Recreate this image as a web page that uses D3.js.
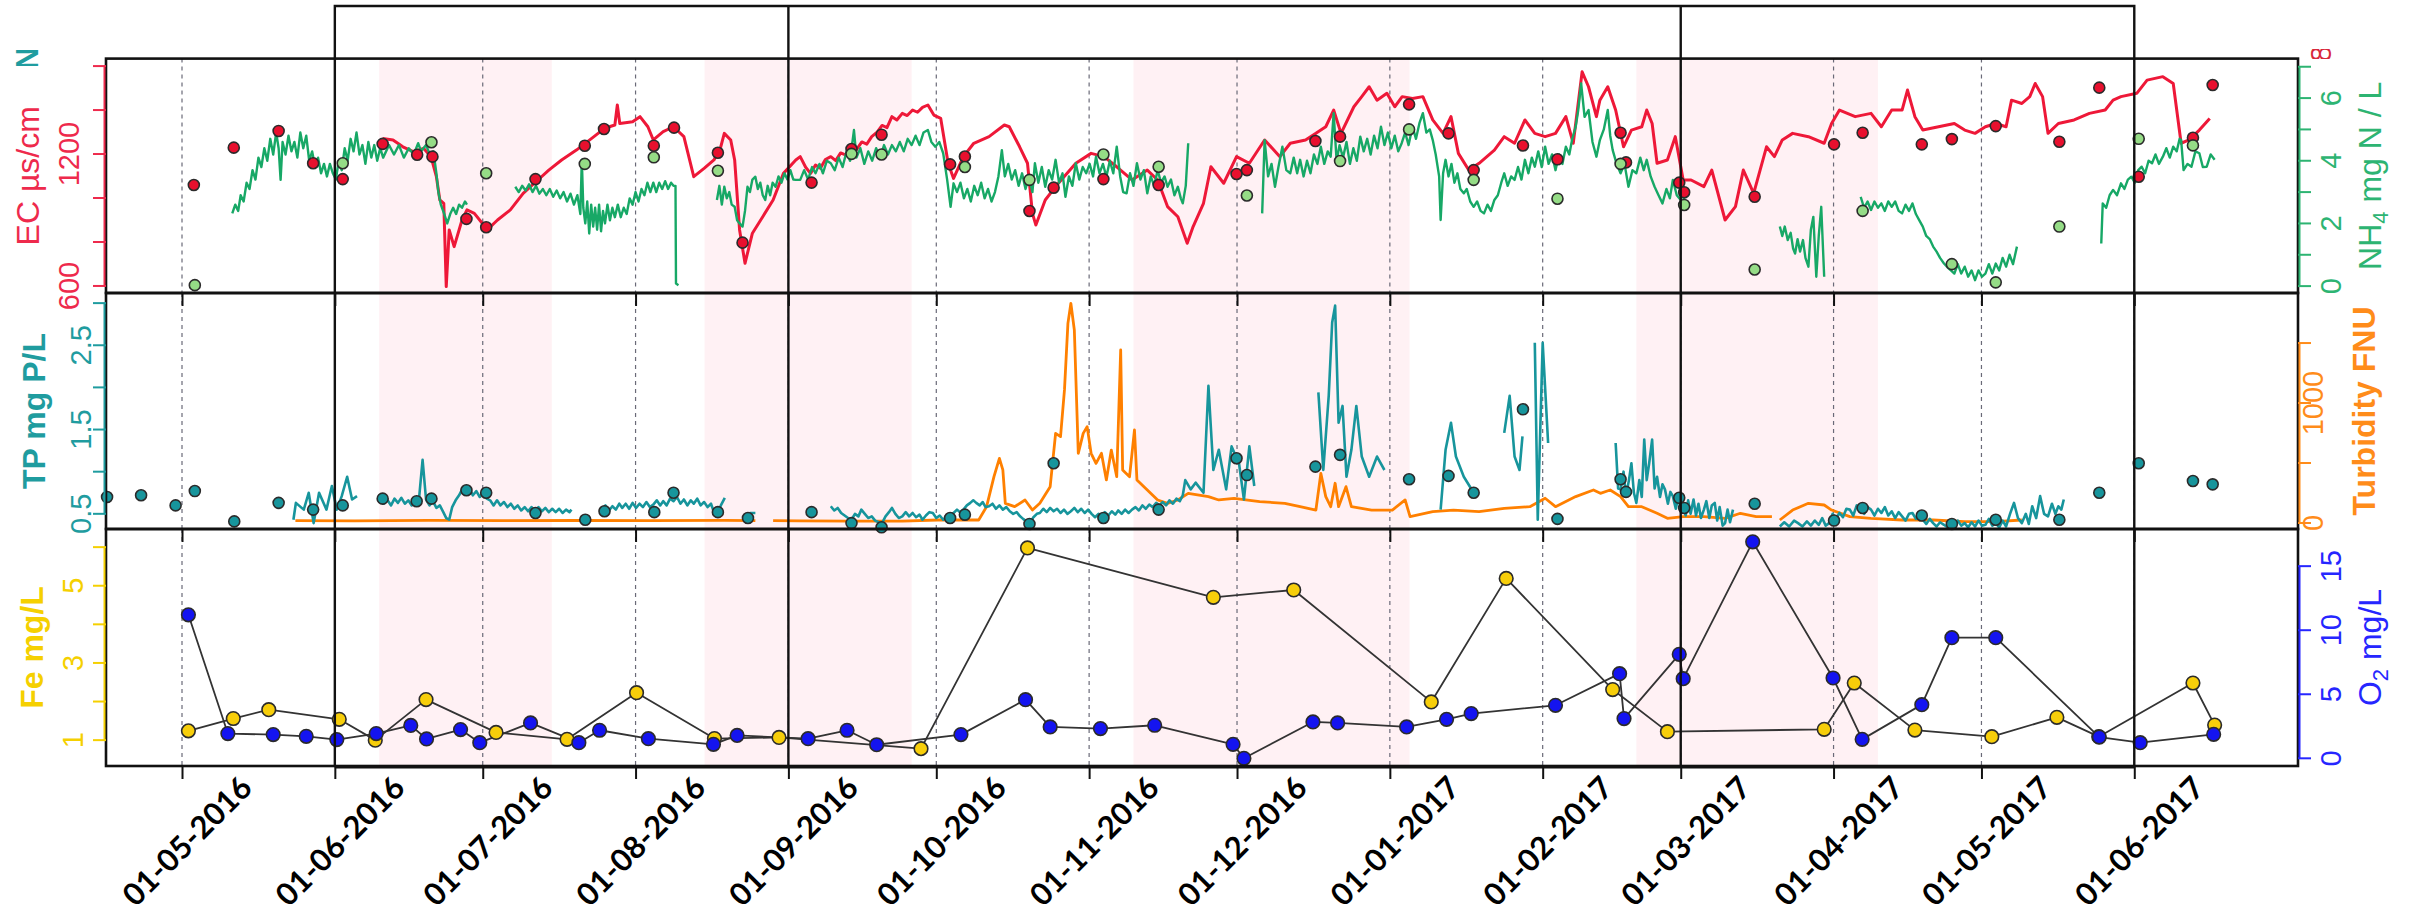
<!DOCTYPE html>
<html>
<head>
<meta charset="utf-8">
<script src="https://cdn.jsdelivr.net/npm/d3@7"></script>
<style>
  body { margin: 0; background: #fff; }
  svg { display: block; font-family: "Liberation Sans", Arial, sans-serif; }
</style>
</head>
<body>
<svg width="2417" height="912"></svg>
<script>
// ---- data (days counted from 01-05-2016) ----
var monthTicks = ["2016-05-01","2016-06-01","2016-07-01","2016-08-01","2016-09-01","2016-10-01","2016-11-01",
                  "2016-12-01","2017-01-01","2017-02-01","2017-03-01","2017-04-01","2017-05-01","2017-06-01"];
var monthLabels = ["01-05-2016","01-06-2016","01-07-2016","01-08-2016","01-09-2016","01-10-2016","01-11-2016",
                   "01-12-2016","01-01-2017","01-02-2017","01-03-2017","01-04-2017","01-05-2017","01-06-2017"];
var periodBreaks = ["2016-06-01","2016-09-01","2017-03-01","2017-06-01"];
var pinkBands = [["2016-06-10","2016-07-15"],["2016-08-15","2016-09-26"],["2016-11-10","2017-01-05"],["2017-02-20","2017-04-10"]];

// EC sensor (µS/cm)
var ecSeries = [[40.7,1271],[42.8,1264],[44.8,1233],[46.9,1211],[49,1226],[50.5,1188],[51.6,1097],[52.3,991],[53.1,976],[53.6,597],[54.2,855],[55.2,779],[56.8,900],[57.8,946],[59.3,930],[60.9,885],[61.9,855],[64,900],[66.6,946],[69.2,1021],[71.8,1074],[74.4,1127],[77,1173],[80,1218],[83.1,1271],[85.7,1317],[87.8,1332],[88.3,1423],[88.8,1339],[91.4,1347],[92.9,1370],[94.5,1324],[95.6,1264],[97.6,1302],[99.7,1324],[101.8,1279],[103.8,1097],[105.9,1135],[107.9,1173],[109.2,1226],[110,1294],[111.3,1264],[112.1,1173],[113.1,855],[114.2,703],[115.7,840],[117.8,915],[119.9,991],[122,1112],[124.5,1173],
  [125.4,1188],[126.5,1140],[127.5,1112],[128.5,1150],[129.5,1135],[130.5,1175],[131.6,1188],[132.6,1170],[133.6,1205],[134.7,1195],[135.8,1233],[136.8,1220],[137.9,1255],[138.9,1245],[139.9,1279],[141,1300],[142,1330],[143,1320],[144,1370],[145,1355],[146.1,1385],[147.1,1375],[148.2,1400],[149.2,1390],[150.2,1412],[151.3,1423],[152.5,1377],[153.9,1362],[155.4,1158],[156.5,1089],[158.5,1188],[160.6,1249],[163.7,1279],[166.8,1332],[167.8,1324],[169.9,1233],[171.5,1158],[172.5,930],[173.2,877],[175.1,991],[177.2,1052],[181.3,1158],[184.4,1203],[187,1188],[189.6,1142],[192.7,1082],[195.8,1127],[197.9,1082],[199.9,961],[202,915],[203.9,794],[205.1,870],[207.2,976],[208.7,1142],[211.3,1067],[213.9,1188],[216.5,1158],[219.6,1264],[222.7,1188],[224.8,1249],[227.9,1264],[230,1294],[232,1324],[233.6,1400],[235.1,1294],[237.7,1415],[239.3,1461],[240.8,1506],[242.4,1445],[244.4,1476],[246,1415],[247.5,1461],[249.6,1453],[251.7,1461],[253.7,1355],[255.8,1294],[257.4,1370],[258.9,1203],[261,1127],[263.1,1158],[266.2,1218],[268.2,1279],[270.3,1249],[272.4,1355],[274.4,1294],[276.5,1279],[278.6,1294],[280.7,1370],[282.2,1249],[284,1574],[285.3,1506],[286.9,1370],
  [287.6,1445],[289.2,1506],[290.8,1400],[292.4,1233],[294,1309],[296.1,1324],[297.1,1400],[298.2,1339],[299.2,1158],[301.3,1173],[302.9,1279],[304.5,1082],[306.1,1082],[308.7,1052],[310.3,1127],[313,900],[315.1,961],[316.7,1127],[318.8,1021],[321.4,1233],[323,1188],[324.6,1264],[326.7,1294],[329.9,1279],[333.1,1249],[334.6,1339],[336.2,1400],[339.4,1370],[342.6,1385],[344.7,1324],[346.8,1400],[348.9,1400],[350,1491],[351.5,1370],[353.1,1309],[356.3,1324],[359.5,1339],[361.6,1309],[363.7,1294],[365.8,1324],[367.9,1339],[370,1324],[371.1,1445],[373.2,1430],[374.8,1461],[375.9,1521],[377.4,1461],[378.5,1294],[380.6,1339],[383.8,1355],[386.9,1385],[390.1,1400],[391.7,1445],[393.3,1461],[396.5,1476],[398.6,1536],[401.8,1552],[403.9,1521],[405.5,1249],[407.1,1264],[409.2,1309],[411.3,1362]];

// NH4 sensor (mg N/L), null = gap
var nh4Series = [[10.2,2.32],[10.8,2.6],[11.4,2.4],[11.9,2.9],[12.5,2.7],[13.1,3.3],[13.7,3.1],[14.3,3.7],[14.9,3.4],[15.5,4.1],[16.1,3.8],[16.7,4.4],[17.3,4.0],[17.9,4.7],[18.5,4.2],[19.1,4.9],[19.6,4.4],[20,3.39],[20.4,4.6],[21,4.2],[21.6,4.8],[22.2,4.3],[22.8,4.6],[23.4,4.1],[24,4.9],[24.6,4.4],[25.2,4.8],[25.8,4.0],[26.4,4.3],[27,3.8],[27.6,4.1],[28.2,3.6],[28.8,3.9],[29.4,3.5],[30,3.9],[30.6,3.6],[31.2,3.4],[31.8,4.0],[32.4,3.7],[33,4.4],[33.6,4.0],[34.2,4.7],[34.8,4.3],[35.4,4.9],[36,4.2],[36.6,4.5],[37.2,3.9],[37.8,4.6],[38.4,4.1],[39,4.5],[39.6,4.0],[40.2,4.4],[40.8,4.1],[42,4.5],[43,4.2],[44,4.5],[45,4.1],[46,4.4],[47,4.2],[47.9,4.56],[48.5,4.3],[49.5,4.5],[50.3,4.2],[51,4.3],[51.6,3.6],[52,3.0],[52.5,2.6],[53.2,2.3],[53.8,2.0],[54.4,2.3],[55,2.5],[55.6,2.3],[56.2,2.6],[56.8,2.5],[57.4,2.7],[57.8,2.6],[58,null],
  [67.6,3.17],[68.3,3.0],[69,3.2],[69.7,3.05],[70.4,3.25],[71.1,3.0],[71.8,3.2],[72.5,2.95],[73.2,3.1],[73.9,2.9],[74.6,3.1],[75.3,2.85],[76,3.05],[76.7,2.8],[77.4,3.0],[78.1,2.7],[78.8,2.95],[79.5,2.6],[80.2,2.9],[80.8,2.3],[81.1,4.03],[81.4,2.5],[81.8,2.0],[82.2,2.7],[82.6,1.68],[83,2.6],[83.4,1.9],[83.8,2.5],[84.2,1.8],[84.6,2.6],[85,1.75],[85.4,2.4],[85.8,2.0],[86.3,2.6],[86.8,2.1],[87.3,2.5],[87.8,2.2],[88.4,2.6],[89,2.2],[89.6,2.5],[90.2,2.3],[90.8,2.8],[91.4,2.6],[92,3.0],[92.6,2.7],[93.2,3.1],[93.8,2.9],[94.4,3.3],[95,3.0],[95.6,3.3],[96.2,3.0],[96.8,3.3],[97.4,3.1],[98,3.35],[98.6,3.1],[99.2,3.3],[99.7,3.2],[100.1,3.2],[100.2,0.08],[100.7,0.03],[101,null],
  [108.5,2.75],[109,3.2],[109.5,2.6],[110,3.17],[110.5,2.8],[111,3.0],[111.5,2.6],[112.1,2.53],[112.6,2.1],[113.1,2.0],[113.7,1.9],[114.2,2.4],[114.7,3.17],[115.2,3.0],[115.7,3.4],[116.3,3.49],[116.8,3.1],[117.3,3.3],[117.8,2.9],[118.3,2.75],[118.8,3.2],[119.3,2.9],[119.8,3.3],[120.4,3.17],[121,3.5],[121.6,3.3],[122.2,3.6],[122.8,3.4],[123.4,3.7],[124,3.4],[124.5,3.39],
  [125.4,3.39],[126.2,3.7],[127,3.4],[127.8,3.8],[128.5,3.6],[129.3,3.9],[130,3.6],[130.8,4.0],[131.6,3.92],[132.4,3.7],[133.2,4.1],[134,3.8],[134.8,4.3],[135.5,4.0],[136.3,4.98],[136.8,4.1],[137.6,4.4],[138.4,3.9],[139.2,4.3],[140,4.0],[140.8,4.4],[141.6,4.1],[142.4,4.5],[143.2,4.2],[144,4.5],[144.8,4.3],[145.6,4.6],[146.4,4.3],[147.2,4.7],[148,4.5],[148.8,4.8],[149.6,4.5],[150.4,4.9],[151.3,4.98],[152,4.6],[152.8,4.45],[153.6,4.6],[154.4,4.24],[155.2,3.4],[155.9,2.53],[156.5,3.28],
  [157.2,3.0],[157.9,3.3],[158.6,2.8],[159.3,3.1],[160,2.7],[160.7,3.2],[161.4,2.9],[162.1,3.3],[162.8,2.8],[163.5,3.1],[164.2,2.7],[164.9,3.0],[165.6,3.5],[166.3,4.34],[166.9,3.5],[167.6,3.9],[168.3,3.4],[169,3.7],[169.7,3.2],[170.4,3.6],[171.1,3.1],[171.8,3.5],[172.5,3.0],[173,3.92],[173.7,3.3],[174.4,3.8],[175.1,3.17],[175.8,3.7],[176.5,3.4],[177.2,4.03],[177.9,3.3],[178.6,3.6],[179.2,2.85],[179.9,3.5],[180.6,3.2],[181.3,3.92],[182,3.4],[182.7,3.8],[183.4,3.6],[184.1,3.9],[184.8,3.5],[185.4,4.13],[186.1,3.6],[186.8,3.9],[187.5,3.49],[188.2,4.0],[188.9,3.6],[189.6,4.45],[190.3,3.5],[190.9,3.0],[191.6,2.96],[192.3,3.6],[193,3.2],[193.7,3.92],[194.4,3.4],[195.1,3.7],[195.8,2.96],[196.5,3.5],[197.2,3.2],[197.9,3.7],[198.6,3.3],[199.3,3.5],[199.9,3.17],[200.6,3.4],[201.3,2.9],[202,3.17],[202.6,2.8],[203,2.64],[203.6,3.2],[204.1,4.56],[204.5,null],
  [219.1,2.32],[219.6,4.66],[220.3,3.5],[221,3.9],[221.7,3.17],[222.4,3.8],[223.2,4.45],[224,3.7],[224.8,3.6],[225.5,4.1],[226.2,3.6],[226.8,4.03],[227.5,3.5],[228.2,4.0],[228.9,3.6],[229.6,4.2],[230.3,3.9],[231,4.45],[231.7,3.9],[232.4,4.3],[233,4.13],[233.6,5.52],[234.2,4.0],[234.8,4.5],[235.5,4.1],[236.2,4.6],[236.9,3.9],[237.6,4.4],[238.3,4.0],[239,4.77],[239.7,4.3],[240.4,4.7],[241.1,4.2],[241.8,4.8],[242.5,4.4],[243.2,5.09],[243.9,4.5],[244.6,4.9],[245.3,4.4],[246,4.8],[246.7,4.3],[247.4,4.56],[248.1,4.9],[248.8,4.5],[249.6,5.09],[250.3,4.7],[251,5.2],[251.7,5.52],[252.4,4.9],[253.1,5.0],[253.7,4.66],[254.3,4.2],[255,3.5],[255.3,2.11],[255.8,3.6],[256.3,4.03],[256.9,3.5],[257.5,3.9],[258.1,3.3],[258.7,3.6],[259.3,3.1],[260,2.96],[260.6,3.1],[261.3,2.7],[262,2.53],[262.7,2.7],[263.4,2.4],[264.1,2.32],[264.8,2.6],[265.5,2.4],[266.2,2.75],[266.9,2.9],[267.6,3.3],[268.2,3.6],[268.9,3.2],[269.6,3.5],[270.3,3.39],[271,3.8],[271.7,3.4],[272.4,4.03],[273.1,3.6],[273.8,4.1],[274.4,3.81],[275.1,4.3],[275.8,3.8],[276.5,4.45],[277.2,3.9],[277.9,4.2],[278.6,3.7],[279.3,4.2],[280,3.9],[280.7,4.45],[281.4,4.2],[282,4.7],[282.7,5.09],[283.2,5.6],[283.8,6.47],[284.5,5.4],[285.3,5.62],[286.1,4.6],[286.9,4.13],[287.6,4.66],[288.4,5.0],[289.2,5.62],[289.7,4.8],[290.2,4.34],[291,3.9],[291.8,3.6],[292.6,3.9],[293.4,3.17],[294.2,3.7],[295,3.6],[295.8,4.1],[296.5,3.7],[297.1,4.03],[297.9,3.5],[298.7,3.17],[299.5,2.9],[300.3,2.64],[301.1,3.1],[301.8,2.8],[302.4,3.39],[303.2,2.9],[304,2.75],[304.5,3.0],[305,2.53],[305.5,null],
  [324.1,1.9],[324.6,1.6],[325.1,1.9],[325.7,1.47],[326.3,1.7],[326.8,1.2],[327.2,1.04],[327.7,1.5],[328.2,1.1],[328.8,1.47],[329.3,0.9],[329.9,0.62],[330.4,1.8],[330.9,2.21],[331.5,0.3],[332,1.6],[332.5,2.53],[333.1,0.3],[333.5,null],
  [340.5,2.85],[341.2,2.5],[341.9,2.7],[342.6,2.43],[343.3,2.7],[344,2.5],[344.7,2.64],[345.4,2.4],[346.1,2.7],[346.8,2.53],[347.5,2.7],[348.2,2.4],[348.9,2.32],[349.6,2.6],[350.3,2.4],[351,2.64],[351.7,2.3],[352.4,2.1],[353.1,1.9],[353.8,1.6],[354.5,1.5],[355.2,1.26],[355.9,1.1],[356.6,0.9],[357.4,0.72],[358.1,0.6],[358.8,0.5],[359.5,0.4],[360.2,0.7],[360.9,0.4],[361.6,0.62],[362.3,0.3],[363,0.5],[363.7,0.19],[364.4,0.5],[365.1,0.3],[365.8,0.4],[366.5,0.7],[367.2,0.4],[367.9,0.72],[368.6,0.5],[369.3,0.9],[370,0.62],[370.7,1.0],[371.4,0.7],[372.2,1.26],[372.5,null],
  [389.3,1.36],[389.6,2.64],[390.3,2.5],[391,2.9],[391.7,3.07],[392.5,2.9],[393.3,3.28],[394,3.1],[394.7,3.4],[395.4,3.49],[396.1,3.3],[396.8,3.7],[397.5,3.81],[398.2,3.6],[398.9,4.0],[399.6,3.92],[400.3,4.2],[401,3.9],[401.8,4.13],[402.5,4.4],[403.2,4.1],[403.9,4.45],[404.6,4.3],[405.2,4.7],[405.5,4.66],[406,3.7],[406.8,3.9],[407.6,3.81],[408.4,4.3],[409.2,4.24],[409.9,3.8],[410.7,3.81],[411.5,4.2],[412.3,4.03]];

// lab samples, top panel
var ecSamples = [[2.4,1059],[10.5,1229],[19.6,1305],[26.6,1158],[32.6,1086],[40.7,1246],[47.7,1197],[50.8,1188],[57.7,905],[61.7,867],[71.7,1086],[81.7,1238],[85.6,1314],[95.7,1238],[99.8,1320],[108.7,1206],[113.7,797],
  [127.7,1070],[135.8,1223],[141.9,1288],[155.8,1153],[158.8,1189],[171.9,941],[176.8,1047],[186.9,1086],[198.1,1059],[213.9,1109],[216,1127],[229.9,1259],[234.9,1279],[248.9,1426],[256.9,1294],[262,1127],[272,1239],[279,1176],
  [291.8,1297],[292.9,1162],[303.7,1070],[304.7,1026],[319,1006],[335.1,1244],[340.9,1297],[352.9,1244],[359,1268],[367.9,1327],[380.8,1256],[388.9,1502],[396.9,1097],[407.9,1274],[411.9,1514]];
var nh4Samples = [[2.6,0.03],[32.6,3.92],[50.6,4.59],[61.7,3.6],[81.7,3.9],[95.7,4.11],[108.7,3.68],
  [135.8,4.22],[141.9,4.2],[158.8,3.8],[171.9,3.39],[186.9,4.2],[198.1,3.81],[216,2.89],[234.9,3.99],[248.9,5.0],[262,3.39],[279,2.79],
  [291.8,3.9],[304.7,2.59],[319,0.53],[340.9,2.4],[359,0.7],[367.9,0.12],[380.8,1.9],[396.9,4.7],[407.9,4.49]];

// TP sensor (mg P/L)
var tpSeries = [[22.6,0.43],[23.1,0.63],[24.7,0.55],[25.7,0.75],[26.7,0.39],[27.8,0.75],[29.3,0.55],[30.4,0.83],[31.4,0.55],[32.4,0.71],[33.5,0.94],[34.5,0.67],[35.5,0.71],[36,null],
  [40.2,0.69],[40.9,0.62],[41.7,0.66],[42.4,0.6],[43.1,0.68],[43.8,0.63],[44.5,0.69],[45.2,0.62],[45.9,0.66],[46.6,0.6],[47.3,0.68],[48,0.63],[48.8,1.14],[49.5,0.67],[50.2,0.6],[50.9,0.65],[51.6,0.57],[52.3,0.6],[53,0.52],[53.6,0.45],[54.2,0.43],[54.8,0.58],[55.5,0.66],[56.2,0.72],[56.9,0.8],[57.6,0.76],[58.3,0.8],[59,0.72],[59.7,0.77],[60.4,0.7],[61.1,0.76],[61.8,0.68],[62.5,0.66],[63.2,0.6],[63.9,0.66],[64.6,0.6],[65.3,0.64],[66,0.58],[66.7,0.62],[67.4,0.56],[68.1,0.6],[68.8,0.54],[69.5,0.58],[70.2,0.53],[70.9,0.58],[71.6,0.54],[72.3,0.58],[73,0.53],[73.7,0.57],[74.4,0.52],[75.1,0.56],[75.8,0.52],[76.5,0.56],[77.2,0.51],[77.9,0.55],[78.6,0.52],[79,0.55],[79.5,null],
  [85.2,0.55],[85.9,0.6],[86.6,0.54],[87.3,0.59],[88,0.55],[88.7,0.62],[89.3,0.57],[90,0.62],[90.7,0.56],[91.4,0.63],[92.1,0.57],[92.8,0.62],[93.5,0.58],[94.2,0.64],[94.9,0.58],[95.6,0.61],[96.3,0.66],[97,0.6],[97.6,0.65],[98.3,0.6],[99,0.68],[99.7,0.65],[100.4,0.7],[101.1,0.62],[101.8,0.67],[102.5,0.6],[103.2,0.66],[103.8,0.62],[104.5,0.68],[105.2,0.6],[105.9,0.64],[106.6,0.58],[107.3,0.62],[107.9,0.52],[108.6,0.5],[109.3,0.6],[110.1,0.69],[110.5,null],
  [114.2,0.39],[115.2,0.51],[116.3,0.51],[117,null],
  [131.6,0.59],[132.3,0.54],[133,0.57],[133.7,0.51],[134.4,0.48],[135.1,0.45],[135.8,0.43],[136.5,0.5],[137.2,0.47],[137.8,0.55],[138.5,0.5],[139.2,0.45],[139.9,0.47],[140.6,0.42],[141.3,0.4],[142,0.39],[142.7,0.47],[143.4,0.52],[144,0.57],[144.7,0.5],[145.4,0.45],[146.1,0.47],[146.8,0.52],[147.5,0.47],[148.2,0.51],[148.9,0.46],[149.6,0.49],[150.2,0.43],[150.9,0.48],[151.6,0.52],[152.3,0.51],[153,0.45],[153.7,0.48],[154.4,0.43],[155.1,0.47],[155.8,0.5],[156.5,0.51],[157.2,0.55],[157.8,0.52],[158.5,0.55],[159.2,0.6],[159.9,0.63],[160.5,0.66],[161.1,0.63],[161.8,0.6],[162.4,0.64],[163,0.58],[163.7,0.59],[164.4,0.62],[165.1,0.56],[165.8,0.6],[166.5,0.55],[167.2,0.58],[167.9,0.53],[168.6,0.5],[169.3,0.52],[170,0.47],[170.6,0.44],[171.3,0.41],[172,0.39],[172.7,0.46],[173.4,0.5],[174,0.51],[174.7,0.56],[175.4,0.52],[176.1,0.57],[176.8,0.53],[177.5,0.56],[178.2,0.51],[178.9,0.55],[179.6,0.5],[180.3,0.53],[181,0.57],[181.7,0.52],[182.4,0.56],[183.1,0.51],[183.8,0.55],[184.5,0.5],[185.2,0.46],[185.9,0.5],[186.5,0.47],[187.2,0.52],[187.9,0.48],[188.6,0.53],[189.3,0.49],[189.9,0.54],[190.6,0.5],[191.3,0.55],[192,0.51],[192.7,0.55],[193.4,0.58],[194.1,0.54],[194.8,0.6],[195.5,0.56],[196.2,0.61],[196.9,0.58],[197.6,0.63],[198.3,0.6],[198.9,0.64],[199.6,0.6],[200.3,0.66],[201,0.62],[201.7,0.68],[202.4,0.65],[203,0.72],[203.5,0.9],[204.6,0.79],[205.6,0.87],[207.2,0.75],[208.2,2.02],[209.2,1.02],[210.3,1.26],[211.8,0.79],[212.9,1.3],[214.4,1.1],[215.4,0.67],[216.5,1.3],[217.5,0.83],[218,null],
  [230.5,1.94],[231.5,1.02],[232.6,1.9],[233.3,2.77],[233.9,2.97],[234.6,1.58],[235.4,1.78],[236.2,0.94],[237.2,1.26],[238.2,1.78],[239.3,1.18],[240.8,0.94],[242.4,1.18],[243.9,1.02],[244.5,null],
  [255.3,0.55],[256.3,1.26],[257.4,1.58],[258.4,1.18],[260,0.94],[262,0.75],[262.5,null],
  [268.2,1.46],[269.3,1.9],[270.3,1.18],[271.3,1.02],[271.9,1.42],[272.2,null],
  [274.4,2.53],[275,0.43],[276,2.53],[277.1,1.34],[277.5,null],
  [290.8,1.34],[291.3,0.8],[291.8,0.79],[292.4,1.0],[292.9,0.71],[293.5,0.9],[294,1.1],[294.5,0.75],[295,0.63],[295.6,0.9],[296.1,0.7],[296.6,1.38],[297.1,0.9],[297.6,1.1],[298.2,1.38],[298.7,0.8],[299.2,0.94],[299.8,0.7],[300.3,0.85],[300.8,0.79],[301.4,0.62],[301.9,0.76],[302.4,0.71],[303,0.56],[303.5,0.7],[304,0.55],[304.5,0.59],[305,0.48],[305.5,0.66],[306,0.5],[306.6,0.67],[307.1,0.48],[307.6,0.62],[308.1,0.45],[308.7,0.55],[309.2,0.65],[309.8,0.45],[310.3,0.6],[310.9,0.63],[311.4,0.42],[311.9,0.58],[312.5,0.36],[313,0.39],[313.5,0.55],[314,0.4],[314.6,0.55],[315,null],
  [324.1,0.35],[325,0.4],[326,0.35],[327,0.42],[327.8,0.39],[328.7,0.35],[329.6,0.41],[330.4,0.36],[331.2,0.42],[332,0.37],[332.7,0.45],[333.4,0.36],[334.1,0.39],[334.8,0.5],[335.5,0.44],[336.2,0.51],[336.9,0.46],[337.6,0.56],[338.3,0.55],[339,0.48],[339.7,0.6],[340.5,0.59],[341.2,0.5],[341.9,0.58],[342.6,0.55],[343.3,0.48],[344,0.56],[344.7,0.51],[345.4,0.58],[346.1,0.48],[346.8,0.53],[347.5,0.45],[348.2,0.52],[348.9,0.47],[349.6,0.42],[350.3,0.5],[351,0.51],[351.7,0.44],[352.4,0.48],[353.1,0.43],[353.8,0.38],[354.5,0.44],[355.2,0.39],[355.9,0.35],[356.6,0.4],[357.4,0.37],[358.1,0.34],[358.8,0.4],[359.5,0.35],[360.2,0.42],[360.9,0.36],[361.6,0.39],[362.3,0.34],[363,0.4],[363.7,0.35],[364.4,0.42],[365.1,0.36],[365.8,0.37],[366.5,0.44],[367.2,0.36],[367.9,0.39],[368.6,0.34],[369.3,0.42],[370,0.35],[370.8,0.5],[371.6,0.63],[372.4,0.45],[373.2,0.39],[374,0.5],[374.6,0.38],[375.3,0.59],[376.1,0.45],[376.9,0.71],[377.7,0.5],[378.5,0.47],[379.3,0.62],[380,0.5],[380.6,0.59],[381.2,0.55],[381.7,0.67]];

// Turbidity sensor (FNU)
var turbSeries = [[23,20],[35,18],[50,22],[65,19],[80,21],[95,20],[110,22],[116.3,20],[117,null],
  [119.9,20],[125.4,18],[135.8,15],[146.1,15],[153.3,25],[161.6,25],[163.2,136],[164.7,386],[165.8,539],[166.5,442],[167,164],[168.9,136],[171,192],[172.5,108],[174,164],[176.1,303],[177.2,747],[178.2,720],[179,1109],[179.7,1664],[180.3,1831],[181,1609],[181.8,581],[182.8,747],[183.6,803],[184.4,581],[185.4,497],[186.5,581],[187.5,359],[188.5,608],[189.6,386],[190.4,1442],[190.8,442],[192.2,386],[193.2,775],[193.7,359],[195.8,275],[197.9,192],[199.9,164],[202,192],[204.1,247],[208.2,220],[210.3,192],[213.4,206],[218.6,178],[223.7,164],[226.8,136],[230,108],[231,414],[232,220],[233,136],[233.9,331],[234.6,136],[236.1,303],[237.2,136],[241.3,108],[245.5,108],[248.1,192],[249.1,53],[253.7,95],[257.9,108],[263.1,95],[268.2,122],[273.4,136],[276.5,206],[278.6,136],[282.7,220],[286.3,275],[287.7,247],[289.7,275],[291.8,220],[293.4,136],[296.1,136],[299.2,81],[301.3,39],[304.5,53],[308.7,53],[313,39],[316.1,81],[319.3,53],[322.5,53],[323,null],
  [324.1,25],[326.7,108],[329.9,164],[333.1,150],[334.6,108],[338.3,53],[342.6,39],[348.9,25],[355.2,25],[361.6,11],[367.9,11],[373.2,25]];

var tpSamples = [[-15.2,0.70],[-8.3,0.72],[-1.3,0.6],[2.6,0.77],[10.6,0.41],[19.6,0.63],[26.6,0.55],[32.6,0.6],[40.7,0.68],[47.6,0.65],[50.6,0.68],[57.7,0.78],[61.7,0.75],[71.7,0.51],[81.8,0.43],[85.7,0.53],[95.8,0.52],[99.7,0.75],[108.7,0.52],[114.8,0.45],
  [127.7,0.52],[135.8,0.39],[141.9,0.34],[155.8,0.45],[158.8,0.49],[171.9,0.38],[176.8,1.1],[186.9,0.45],[198.1,0.55],[213.9,1.16],[216,0.96],[229.9,1.06],[234.9,1.2],[248.9,0.91],[256.9,0.95],[262,0.75],[272,1.74],[279,0.44],
  [291.8,0.91],[292.9,0.76],[303.7,0.69],[304.7,0.57],[319,0.62],[335.1,0.42],[340.9,0.57],[352.9,0.48],[359,0.38],[367.9,0.43],[380.8,0.43],[388.9,0.75],[396.9,1.1],[407.9,0.89],[411.9,0.85]];

// bottom panel lab samples
var feSamples = [[1.3,1.24],[10.4,1.56],[17.6,1.79],[31.9,1.54],[39.2,1.0],[49.5,2.05],[63.7,1.2],[78.1,1.02],[92.2,2.23],[108,1.04],[121.1,1.07],[149.9,0.78],[171.5,5.98],[209.2,4.7],[225.5,4.89],[253.4,1.99],[268.6,5.19],[290.2,2.31],[301.3,1.22],[333.1,1.28],[339.2,2.48],[351.5,1.26],[367.1,1.09],[380.3,1.59],[388.8,1.09],[407.9,2.48],[412.3,1.39]];
var o2Samples = [[1.3,11.2],[9.3,1.93],[18.5,1.85],[25.2,1.72],[31.4,1.46],[39.4,1.93],[46.4,2.57],[49.6,1.51],[56.5,2.24],[60.4,1.22],[70.7,2.76],[80.5,1.22],[84.7,2.19],[94.6,1.53],[107.8,1.09],[112.6,1.79],[127,1.53],[134.9,2.19],[140.9,1.06],[158,1.85],[171.1,4.58],[176.1,2.45],[186.3,2.32],[197.3,2.58],[213.2,1.09],[215.4,0],[229.4,2.84],[234.4,2.76],[248.4,2.45],[256.5,3.04],[261.5,3.49],[278.6,4.14],[291.6,6.61],[292.5,3.1],[303.7,8.12],[304.5,6.22],[318.6,16.9],[334.9,6.27],[340.8,1.48],[352.9,4.19],[359,9.42],[367.9,9.42],[388.9,1.66],[397.2,1.22],[412.1,1.87]];

// ---- colours ----
var colEC = "#ee1838", colNH4 = "#17a866", colNH4pt = "#95dc86", colTP = "#17959c",
    colTurb = "#ff8000", colFe = "#f7ce0a", colO2 = "#1414f0", colPink = "#fff1f4";

var svg = d3.select("svg");
var dayZero = new Date(2016, 4, 1);
function toDate(d) { return new Date(dayZero.getTime() + d * 864e5); }
var parse = d3.timeParse("%Y-%m-%d");

var x = d3.scaleTime()
    .domain([new Date(2016, 3, 15, 14), new Date(2017, 6, 4, 5)])
    .range([106, 2298]);

var panels = {
  top: [58.6, 293],
  mid: [293, 529],
  bot: [529, 766]
};

var ecY   = d3.scaleLinear().domain([568, 1634]).range([panels.top[1], panels.top[0]]);
var nh4Y  = d3.scaleLinear().domain([-0.22, 7.26]).range([panels.top[1], panels.top[0]]);
var tpY   = d3.scaleLinear().domain([0.32, 3.12]).range([panels.mid[1], panels.mid[0]]);
var turbY = d3.scaleLinear().domain([-50, 1917]).range([panels.mid[1], panels.mid[0]]);
var feY   = d3.scaleLinear().domain([0.33, 6.47]).range([panels.bot[1], panels.bot[0]]);
var o2Y   = d3.scaleLinear().domain([-0.6, 17.9]).range([panels.bot[1], panels.bot[0]]);

// pink season bands
svg.append("g").selectAll("rect")
  .data(pinkBands)
  .enter().append("rect")
    .attr("x", function(d) { return x(parse(d[0])); })
    .attr("width", function(d) { return x(parse(d[1])) - x(parse(d[0])); })
    .attr("y", panels.top[0])
    .attr("height", panels.bot[1] - panels.top[0])
    .attr("fill", colPink);

// dashed month grid in every panel
Object.keys(panels).forEach(function(k) {
  var p = panels[k];
  svg.append("g").selectAll("line")
    .data(monthTicks)
    .enter().append("line")
      .attr("x1", function(d) { return x(parse(d)); })
      .attr("x2", function(d) { return x(parse(d)); })
      .attr("y1", p[0]).attr("y2", p[1])
      .attr("stroke", "#6a6a78")
      .attr("stroke-width", 1.2)
      .attr("stroke-dasharray", "4,4");
});

function drawLine(data, y, col, w) {
  var line = d3.line()
      .defined(function(d) { return d[1] !== null; })
      .x(function(d) { return x(toDate(d[0])); })
      .y(function(d) { return y(d[1]); });
  svg.append("path")
      .datum(data)
      .attr("d", line)
      .attr("fill", "none")
      .attr("stroke", col)
      .attr("stroke-width", w)
      .attr("stroke-linejoin", "round");
}

function drawPoints(data, y, col, r) {
  svg.append("g").selectAll("circle")
    .data(data)
    .enter().append("circle")
      .attr("cx", function(d) { return x(toDate(d[0])); })
      .attr("cy", function(d) { return y(d[1]); })
      .attr("r", r)
      .attr("fill", col)
      .attr("stroke", "#2b2b2b")
      .attr("stroke-width", 1.6);
}

// top panel
drawLine(ecSeries, ecY, colEC, 3);
drawLine(nh4Series, nh4Y, colNH4, 2.4);
drawPoints(ecSamples, ecY, "#e8102e", 5.5);
drawPoints(nh4Samples, nh4Y, colNH4pt, 5.5);

// middle panel
drawLine(turbSeries, turbY, colTurb, 2.8);
drawLine(tpSeries, tpY, colTP, 2.6);
drawPoints(tpSamples, tpY, colTP, 5.5);

// bottom panel
drawLine(feSamples, feY, "#333", 1.8);
drawLine(o2Samples, o2Y, "#333", 1.8);
drawPoints(feSamples, feY, colFe, 6.8);
drawPoints(o2Samples, o2Y, colO2, 6.8);

// panel frames and x ticks
Object.keys(panels).forEach(function(k) {
  var p = panels[k];
  svg.append("rect")
      .attr("x", x.range()[0]).attr("y", p[0])
      .attr("width", x.range()[1] - x.range()[0]).attr("height", p[1] - p[0])
      .attr("fill", "none").attr("stroke", "#111").attr("stroke-width", 2.6);
  var ax = svg.append("g")
      .attr("transform", "translate(0," + p[1] + ")")
      .call(d3.axisBottom(x).tickValues(monthTicks.map(parse)).tickSize(13).tickFormat(""));
  ax.select(".domain").remove();
  ax.selectAll("line").attr("stroke", "#111").attr("stroke-width", 2);
});

// period frame
var pStart = x(parse(periodBreaks[0])), pEnd = x(parse(periodBreaks[periodBreaks.length - 1]));
svg.append("path")
    .attr("d", "M" + pStart + "," + panels.bot[1] + "V6H" + pEnd + "V" + panels.bot[1])
    .attr("fill", "none").attr("stroke", "#111").attr("stroke-width", 2.4);
svg.append("g").selectAll("line")
  .data(periodBreaks.slice(1, -1))
  .enter().append("line")
    .attr("x1", function(d) { return x(parse(d)); })
    .attr("x2", function(d) { return x(parse(d)); })
    .attr("y1", 6).attr("y2", panels.bot[1])
    .attr("stroke", "#111").attr("stroke-width", 2.4);
svg.append("line")
    .attr("x1", pStart).attr("x2", pEnd)
    .attr("y1", panels.bot[1] + 1).attr("y2", panels.bot[1] + 1)
    .attr("stroke", "#111").attr("stroke-width", 3);

// bottom date labels
svg.append("g").selectAll("text")
  .data(monthTicks)
  .enter().append("text")
    .attr("transform", function(d) { return "translate(" + (x(parse(d)) + 5) + ",841) rotate(-45)"; })
    .attr("text-anchor", "middle")
    .attr("dy", "0.36em")
    .style("font-family", "Lato, 'Open Sans', sans-serif")
    .style("font-weight", "bold")
    .style("font-size", "31px")
    .text(function(d, i) { return monthLabels[i]; });

// y axes: labels rotated, reading bottom to top
function yAxis(scale, side, ticks, labelled, fmt, col, labelX) {
  var x0 = side === "left" ? x.range()[0] : x.range()[1];
  var dir = side === "left" ? -1 : 1;
  var g = svg.append("g");
  var r = d3.extent(ticks);
  g.append("line")
      .attr("x1", x0 + dir * 1.5).attr("x2", x0 + dir * 1.5)
      .attr("y1", scale(r[0])).attr("y2", scale(r[1]))
      .attr("stroke", col).attr("stroke-width", 2);
  g.selectAll(".tk").data(ticks).enter().append("line")
      .attr("x1", x0).attr("x2", x0 + dir * 13)
      .attr("y1", function(d) { return scale(d); })
      .attr("y2", function(d) { return scale(d); })
      .attr("stroke", col).attr("stroke-width", 2);
  g.selectAll("text").data(labelled).enter().append("text")
      .attr("transform", function(d) { return "translate(" + (labelX + 10.5) + "," + scale(d) + ") rotate(-90)"; })
      .attr("text-anchor", "middle")
      .attr("fill", col)
      .style("font-size", "29px")
      .text(fmt);
}

// parts: [text, subscript?]
function yTitle(parts, cx, cy, col, bold) {
  var t = svg.append("text")
      .attr("transform", "translate(" + (cx + 11.5) + "," + cy + ") rotate(-90)")
      .attr("text-anchor", "middle")
      .attr("fill", col)
      .style("font-size", "32px")
      .style("font-weight", bold ? "bold" : "normal");
  var shifted = false;
  parts.forEach(function(p) {
    var s = t.append("tspan").text(p[0]);
    if (p[1]) { s.style("font-size", "22px").attr("dy", 7); shifted = true; }
    else if (shifted) { s.attr("dy", -7); shifted = false; }
  });
}

var midTop = (panels.top[0] + panels.top[1]) / 2,
    midMid = (panels.mid[0] + panels.mid[1]) / 2,
    midBot = (panels.bot[0] + panels.bot[1]) / 2;

yAxis(ecY, "left", [600, 800, 1000, 1200, 1400, 1600], [600, 1200], d3.format("d"), "#ee2a4c", 68);
yTitle([["EC µs/cm"]], 27, midTop, "#ee2a4c", false);
yAxis(nh4Y, "right", [0, 1, 2, 3, 4, 5, 6, 7], [0, 2, 4, 6], d3.format("d"), "#2db472", 2330);
yTitle([["NH"], ["4", true], [" mg N / L"]], 2369, midTop, "#2db472", false);

yAxis(tpY, "left", [0.5, 1, 1.5, 2, 2.5, 3], [0.5, 1.5, 2.5], d3.format(".1f"), "#1f9c9f", 80);
yTitle([["TP mg P/L"]], 33, midMid, "#1f9c9f", true);
yAxis(turbY, "right", [0, 500, 1000, 1500], [0, 1000], d3.format("d"), "#ff8c1a", 2312);
yTitle([["Turbidity FNU"]], 2363, midMid, "#ff8c1a", true);

yAxis(feY, "left", [1, 2, 3, 4, 5, 6], [1, 3, 5], d3.format("d"), "#f5d000", 72);
yTitle([["Fe mg/L"]], 31, midBot, "#f5d000", true);
yAxis(o2Y, "right", [0, 5, 10, 15], [0, 5, 10, 15], d3.format("d"), "#2626ff", 2330);
yTitle([["O"], ["2", true], [" mg/L"]], 2369, midBot, "#2626ff", false);

// clipped remnants of labels from above the top panel
var defs = svg.append("defs");
defs.append("clipPath").attr("id", "clipLeft")
  .append("rect").attr("x", 0).attr("y", 50).attr("width", 60).attr("height", 16);
defs.append("clipPath").attr("id", "clipRight")
  .append("rect").attr("x", 2300).attr("y", 49).attr("width", 117).attr("height", 10);
svg.append("g").attr("clip-path", "url(#clipLeft)")
  .append("text")
    .attr("transform", "translate(38,70) rotate(-90)")
    .attr("fill", "#1f9c9f")
    .style("font-size", "32px")
    .style("font-weight", "bold")
    .text("N");
svg.append("g").attr("clip-path", "url(#clipRight)")
  .append("text")
    .attr("transform", "translate(2331,62) rotate(-90)")
    .attr("fill", "#d8283c")
    .style("font-size", "29px")
    .text("8");
</script>
</body>
</html>
